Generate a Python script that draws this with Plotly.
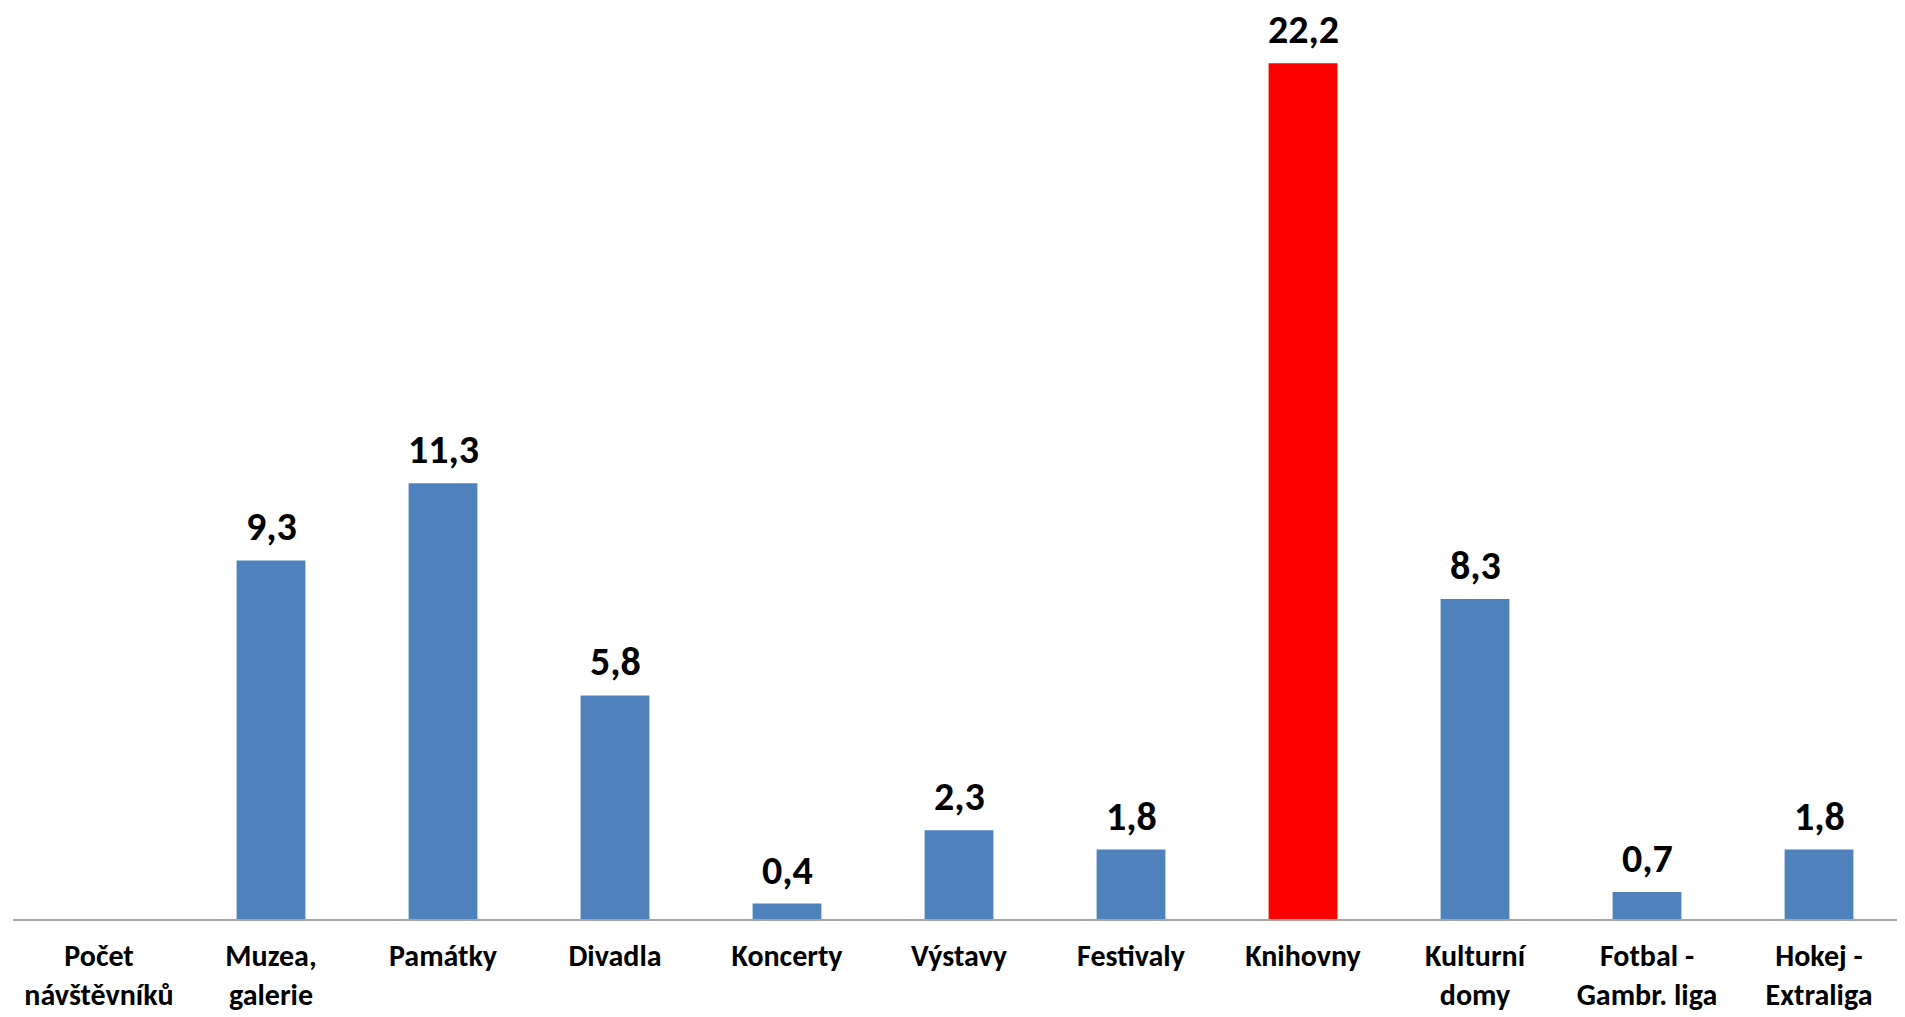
import plotly.graph_objects as go

categories = ["Počet<br>návštěvníků", "Muzea,<br>galerie", "Památky", "Divadla", "Koncerty",
              "Výstavy", "Festivaly", "Knihovny", "Kulturní<br>domy", "Fotbal -<br>Gambr. liga",
              "Hokej -<br>Extraliga"]
values = [None, 9.3, 11.3, 5.8, 0.4, 2.3, 1.8, 22.2, 8.3, 0.7, 1.8]
value_labels = ["", "9,3", "11,3", "5,8", "0,4", "2,3", "1,8", "22,2", "8,3", "0,7", "1,8"]
highlight = "Knihovny"

BLUE = "#4F81BD"
RED = "#FF0000"
FONT = "Carlito, Lato, Calibri, sans-serif"

colors = [RED if c == highlight else BLUE for c in categories]

fig = go.Figure()
fig.add_trace(go.Bar(
    x=categories, y=values, marker=dict(color=colors, line=dict(width=0)),
    hoverinfo="skip",
))

for c, v, t in zip(categories, values, value_labels):
    if v is None:
        continue
    fig.add_annotation(x=c, y=v, text=f"<b>{t}</b>", showarrow=False,
                       yanchor="bottom", yshift=7,
                       font=dict(family=FONT, size=40, color="black"))

fig.update_layout(
    width=1897, height=1009,
    margin=dict(l=5, r=0, t=0, b=98),
    paper_bgcolor="white", plot_bgcolor="white",
    bargap=0.6, showlegend=False,
    font=dict(family=FONT, color="black"),
)
fig.update_xaxes(
    tickfont=dict(family=FONT, size=30, color="black"),
    tickvals=categories,
    ticktext=[f"<b>{c}</b>" for c in categories],
    showline=True, linecolor="#A6A6A6", linewidth=2,
    ticks="", showgrid=False, ticklabelstandoff=9, automargin=False,
)
fig.update_yaxes(range=[0, 23.63], visible=False, showgrid=False, zeroline=False,
                 automargin=False)

fig.write_html("out.html")
